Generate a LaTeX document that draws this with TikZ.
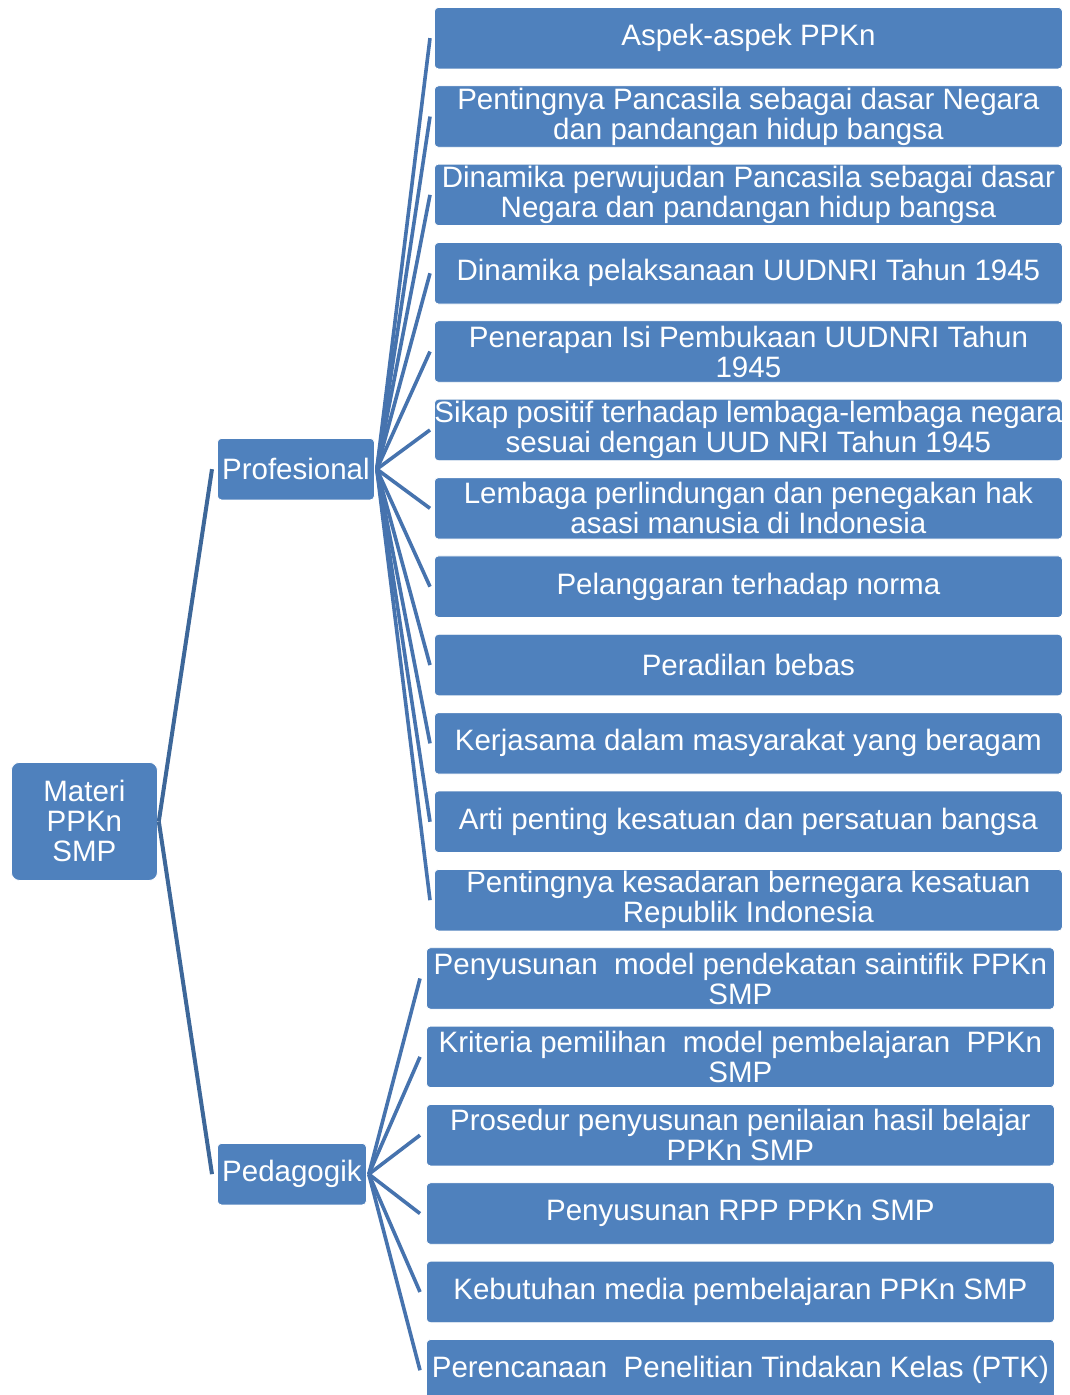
\documentclass[tikz,border=0pt]{standalone}
\usepackage{fontspec}
\setmainfont{Liberation Sans}
\usetikzlibrary{calc}
\definecolor{boxblue}{HTML}{4F81BD}
\definecolor{connblue}{HTML}{4673AE}
\definecolor{rootconn}{HTML}{3D6799}
\begin{document}
\begin{tikzpicture}[x=1pt,y=-1pt,
  box/.style={fill=boxblue, draw=white, line width=0.8pt, rounded corners=4pt,
    text=white, font=\fontsize{29.5}{30}\selectfont, align=center, inner sep=0pt},
  leaf/.style={box, minimum width=628pt, minimum height=61.5pt, anchor=north west},
  rconn/.style={draw=rootconn, line width=4pt},
  cconn/.style={draw=connblue, line width=3.6pt}]
\useasboundingbox (0,0) rectangle (1070,1395);
% root and level 1
\node[box, rounded corners=8pt, minimum width=146pt, minimum height=118pt, anchor=north west] (root) at (11,762) {Materi\\PPKn\\SMP};
\node[box, minimum width=157pt, minimum height=61.5pt, anchor=north west] (prof) at (217,438) {Profesional};
\node[box, minimum width=149pt, minimum height=61.5pt, anchor=north west] (peda) at (217,1143) {Pedagogik};
% Profesional leaves
\node[leaf] (p1) at (434,7) {Aspek-aspek PPKn};
\node[leaf] (p2) at (434,85.4) {Pentingnya Pancasila sebagai dasar Negara\\dan pandangan hidup bangsa};
\node[leaf] (p3) at (434,163.7) {Dinamika perwujudan Pancasila sebagai dasar\\Negara dan pandangan hidup bangsa};
\node[leaf] (p4) at (434,242.1) {Dinamika pelaksanaan UUDNRI Tahun 1945};
\node[leaf] (p5) at (434,320.4) {Penerapan Isi Pembukaan UUDNRI Tahun\\1945};
\node[leaf] (p6) at (434,398.8) {Sikap positif terhadap lembaga-lembaga negara\\sesuai dengan UUD NRI Tahun 1945};
\node[leaf] (p7) at (434,477.2) {Lembaga perlindungan dan penegakan hak\\asasi manusia di Indonesia};
\node[leaf] (p8) at (434,555.5) {Pelanggaran terhadap norma};
\node[leaf] (p9) at (434,633.9) {Peradilan bebas};
\node[leaf] (p10) at (434,712.2) {Kerjasama dalam masyarakat yang beragam};
\node[leaf] (p11) at (434,790.6) {Arti penting kesatuan dan persatuan bangsa};
\node[leaf] (p12) at (434,869) {Pentingnya kesadaran bernegara kesatuan\\Republik Indonesia};
% Pedagogik leaves
\node[leaf] (d1) at (426,947.3) {Penyusunan\ \ model pendekatan saintifik PPKn\\SMP};
\node[leaf] (d2) at (426,1025.7) {Kriteria pemilihan\ \ model pembelajaran\ \ PPKn\\SMP};
\node[leaf] (d3) at (426,1104) {Prosedur penyusunan penilaian hasil belajar\\PPKn SMP};
\node[leaf] (d4) at (426,1182.4) {Penyusunan RPP PPKn SMP};
\node[leaf] (d5) at (426,1260.8) {Kebutuhan media pembelajaran PPKn SMP};
\node[leaf] (d6) at (426,1339.1) {Perencanaan\ \ Penelitian Tindakan Kelas (PTK)};
% connectors
\coordinate (rootE) at ($(root.east)+(1,0)$);
\coordinate (profW) at ($(prof.west)+(-5,0)$);
\coordinate (pedaW) at ($(peda.west)+(-5,0)$);
\draw[rconn] (rootE) -- (profW);
\draw[rconn] (rootE) -- (pedaW);
\coordinate (profE) at ($(prof.east)+(2,0)$);
\foreach \i in {1,...,12}{
  \coordinate (pc\i) at ($(p\i.west)+(-4,0)$);
  \draw[cconn] (profE) -- (pc\i);
}
\coordinate (pedaE) at ($(peda.east)+(2,0)$);
\foreach \i in {1,...,6}{
  \coordinate (dc\i) at ($(d\i.west)+(-6,0)$);
  \draw[cconn] (pedaE) -- (dc\i);
}
\end{tikzpicture}
\end{document}
